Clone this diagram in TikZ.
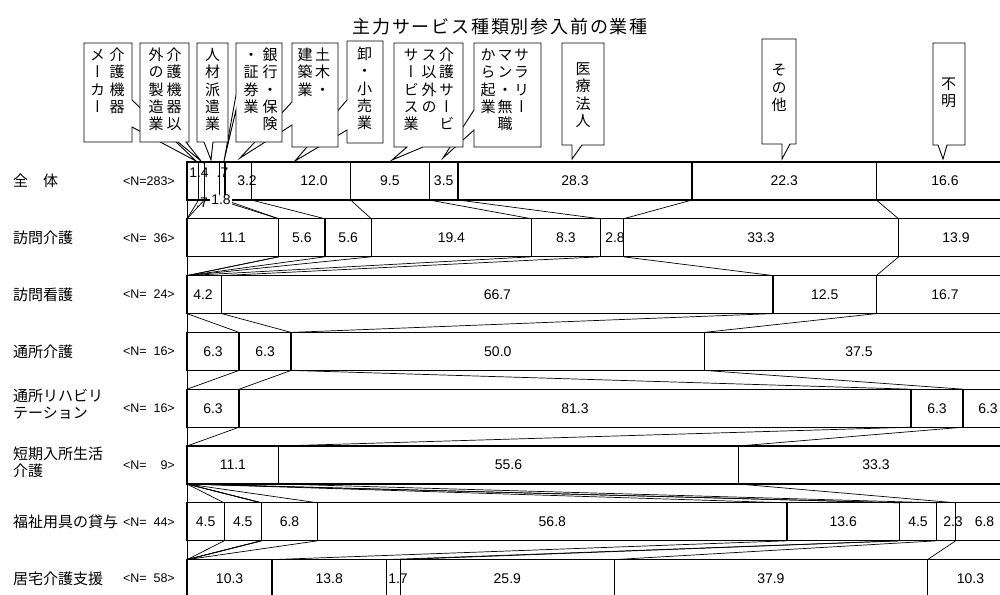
\documentclass[tikz,border=0pt]{standalone}
\usepackage{fontspec}
\setmainfont{Liberation Sans}
\newfontfamily\jp{Noto Sans CJK JP}
\newfontfamily\jpv[RawFeature=+vert]{Noto Sans CJK JP}
\newcommand\tk{\kern1.8pt}
\newcommand\vs{\rule{0pt}{13.2pt}}
\newcommand\nlab[1]{<N=\phantom{283}\llap{#1}>}
\def\data{{{0,1.4,2.1,3.9,4.6,7.8,19.8,29.3,32.8,61.1,83.4,100},
{0,0,0,11.1,11.1,16.7,22.3,41.7,50.0,52.8,86.1,100},
{0,0,0,0,0,0,0,0,4.2,70.9,83.4,100},
{0,0,0,0,0,0,0,6.3,12.6,12.6,62.6,100},
{0,0,0,0,0,0,0,0,6.3,87.6,93.9,100},
{0,0,0,0,0,0,0,0,0,11.1,66.7,100},
{0,4.5,9.0,9.0,9.0,15.8,72.6,86.2,86.2,90.7,93.0,100},
{0,0,0,0,0,0,10.3,24.1,25.8,51.7,89.6,100}}}
\tikzset{
 barln/.style={draw=black, line width=1.3pt},
 serln/.style={draw=black, line width=0.7pt},
 callout/.style={draw=black, fill=white, line width=0.9pt, line join=miter},
 vt/.style={inner sep=0pt, align=center, font=\jpv\fontsize{15}{17.3}\selectfont, anchor=north},
 num/.style={inner sep=0pt, font=\fontsize{14}{16}\selectfont},
 nl/.style={inner sep=0pt, font=\fontsize{12.5}{14}\selectfont, anchor=east},
 cat/.style={inner sep=0pt, font=\jp\fontsize{15}{17}\selectfont, anchor=west, align=left},
}
\begin{document}
\begin{tikzpicture}[x=1pt,y=-1pt]
\useasboundingbox (0,0) rectangle (1000,594);
\fill[white] (0,0) rectangle (1000,594);
\clip (0,0) rectangle (1000,594);

% title
\node[font=\jp\fontsize{18}{20}\selectfont, inner sep=0pt] (title) at (500,27)
 {主\tk 力\tk サ\tk ー\tk ビ\tk ス\tk 種\tk 類\tk 別\tk 参\tk 入\tk 前\tk の\tk 業\tk 種};

% callouts (drawn back to front)
\draw[callout] (84,43) -- (132,43) -- (132,100) -- (196,161) -- (132,127) -- (132,142) -- (84,142) -- cycle;
\node[vt] (c1r) at (117,47) {\vs 介\\護\\機\\器};
\node[vt] (c1l) at (97.5,47) {\vs メ\\ー\\カ\\ー};

\draw[callout] (140,43) -- (189,43) -- (189,142) -- (186,142) -- (201,161) -- (178,142) -- (140,142) -- cycle;
\node[vt] (c2r) at (174,47) {\vs 介\\護\\機\\器\\以};
\node[vt] (c2l) at (156,47) {\vs 外\\の\\製\\造\\業};

\draw[callout] (347,41) -- (383,41) -- (383,143) -- (347,143) -- (347,130) -- (295,161) -- (347,100) -- cycle;
\node[vt] (c6) at (364.5,46) {\vs 卸\\・\\小\\売\\業};

\draw[callout] (292,43) -- (338,43) -- (338,147) -- (292,147) -- (292,125) -- (240,158) -- (292,102) -- cycle;
\node[vt] (c5r) at (322.5,47) {\vs 土\\木\\・};
\node[vt] (c5l) at (305,47) {\vs 建\\築\\業};

\draw[callout] (236,43) -- (282,43) -- (282,142) -- (236,142) -- (236,110) -- (224,161) -- (236,95) -- cycle;
\node[vt] (c4r) at (270,47) {\vs 銀\\行\\・\\保\\険};
\node[vt] (c4l) at (251,47) {\vs ・\\証\\券\\業};

\draw[callout] (197,43) -- (228,43) -- (228,142) -- (213,142) -- (211,160) -- (204,142) -- (197,142) -- cycle;
\node[vt] (c3) at (212.5,47) {\vs 人\\材\\派\\遣\\業};

\draw[callout] (474,43) -- (541,43) -- (541,147) -- (474,147) -- (474,130) -- (443,158) -- (474,110) -- cycle;
\node[vt] (c8r) at (521.5,47) {\vs サ\\ラ\\リ\\ー};
\node[vt] (c8m) at (505,47) {\vs マ\\ン\\・\\無\\職};
\node[vt] (c8l) at (488,47) {\vs か\\ら\\起\\業};

\draw[callout] (394,43) -- (463,43) -- (463,147) -- (423,147) -- (392,160) -- (407,147) -- (394,147) -- cycle;
\node[vt] (c7r) at (446.5,47) {\vs 介\\護\\サ\\ー\\ビ};
\node[vt] (c7m) at (429,47) {\vs ス\\以\\外\\の};
\node[vt] (c7l) at (411,47) {\vs サ\\ー\\ビ\\ス\\業};

\draw[callout] (562,43) -- (604,43) -- (604,145) -- (582,145) -- (572,159) -- (572,145) -- (562,145) -- cycle;
\node[vt] (c9) at (583,61) {\vs 医\\療\\法\\人};

\draw[callout] (762,39) -- (796,39) -- (796,144) -- (790,144) -- (782,159) -- (782,144) -- (762,144) -- cycle;
\node[vt] (c10) at (779,62.5) {\vs そ\\の\\他};

\draw[callout] (933,43) -- (965,43) -- (965,145) -- (947,145) -- (943,159) -- (938,145) -- (933,145) -- cycle;
\node[vt] (c11) at (948.5,76) {\vs 不\\明};

% bar coordinates
\foreach \i in {0,...,7}{
 \foreach \k in {0,...,11}{
  \pgfmathsetmacro\xx{187+8.265*\data[\i][\k]}
  \pgfmathsetmacro\yt{162+56.8*\i}
  \pgfmathsetmacro\yb{\yt+38}
  \coordinate (t-\i-\k) at (\xx,\yt);
  \coordinate (b-\i-\k) at (\xx,\yb);
 }
}

% series lines
\foreach \i [evaluate=\i as \j using int(\i+1)] in {0,...,6}{
 \foreach \k in {1,...,10}{
  \draw[serln] (b-\i-\k) -- (t-\j-\k);
 }
}
\coordinate (axisend) at (187,594);
\draw[serln] (t-0-0) -- (axisend);

% bars
\foreach \i in {0,...,7}{
 \foreach \k [evaluate=\k as \pk using int(\k-1)] in {1,...,11}{
  \draw[barln] (t-\i-\pk) rectangle (b-\i-\k);
 }
}

% row labels
\node[cat] (r0) at (13,181) {全　体};
\node[cat] (r1) at (13,237.8) {訪問介護};
\node[cat] (r2) at (13,294.6) {訪問看護};
\node[cat] (r3) at (13,351.4) {通所介護};
\node[cat] (r4) at (13,404.5) {通所リハビリ\\テーション};
\node[cat] (r5) at (13,462) {短期入所生活\\介護};
\node[cat] (r6) at (13,521.8) {福祉用具の貸与};
\node[cat] (r7) at (13,578.6) {居宅介護支援};

\node[nl] (n0) at (175,181) {\nlab{283}};
\node[nl] (n1) at (175,237.8) {\nlab{36}};
\node[nl] (n2) at (175,294.6) {\nlab{24}};
\node[nl] (n3) at (175,351.4) {\nlab{16}};
\node[nl] (n4) at (175,408.2) {\nlab{16}};
\node[nl] (n5) at (175,465) {\nlab{9}};
\node[nl] (n6) at (175,521.8) {\nlab{44}};
\node[nl] (n7) at (175,578.6) {\nlab{58}};

% values: row 0
\node[num] (v0a) at (199,172.5) {1.4};
\node[num] (v0b) at (202,202.5) {.7};
\node[num, fill=white, inner xsep=1.5pt] (v0c) at (221,200) {1.8};
\node[num] (v0d) at (222.5,173) {.7};
\node[num] (v0e) at (247,181) {3.2};
\node[num] (v0f) at (314,181) {12.0};
\node[num] (v0g) at (389.9,181) {9.5};
\node[num] (v0h) at (443.7,181) {3.5};
\node[num] (v0i) at (575,181) {28.3};
\node[num] (v0j) at (784.2,181) {22.3};
\node[num] (v0k) at (944.9,181) {16.6};
% row 1
\node[num] (v1a) at (232.9,237.8) {11.1};
\node[num] (v1b) at (301.8,237.8) {5.6};
\node[num] (v1c) at (348.2,237.8) {5.6};
\node[num] (v1d) at (451.4,237.8) {19.4};
\node[num] (v1e) at (565.9,237.8) {8.3};
\node[num] (v1f) at (615,237.8) {2.8};
\node[num] (v1g) at (761,237.8) {33.3};
\node[num] (v1h) at (956,237.8) {13.9};
% row 2
\node[num] (v2a) at (203,294.6) {4.2};
\node[num] (v2b) at (497.4,294.6) {66.7};
\node[num] (v2c) at (824.7,294.6) {12.5};
\node[num] (v2d) at (944.9,294.6) {16.7};
% row 3
\node[num] (v3a) at (213,351.4) {6.3};
\node[num] (v3b) at (265.1,351.4) {6.3};
\node[num] (v3c) at (497.8,351.4) {50.0};
\node[num] (v3d) at (859,351.4) {37.5};
% row 4
\node[num] (v4a) at (213,408.2) {6.3};
\node[num] (v4b) at (575,408.2) {81.3};
\node[num] (v4c) at (937,408.2) {6.3};
\node[num] (v4d) at (988,408.2) {6.3};
% row 5
\node[num] (v5a) at (232.9,465) {11.1};
\node[num] (v5b) at (508.5,465) {55.6};
\node[num] (v5c) at (875.9,465) {33.3};
% row 6
\node[num] (v6a) at (205.6,521.8) {4.5};
\node[num] (v6b) at (242.8,521.8) {4.5};
\node[num] (v6c) at (289.5,521.8) {6.8};
\node[num] (v6d) at (552.3,521.8) {56.8};
\node[num] (v6e) at (843.2,521.8) {13.6};
\node[num] (v6f) at (918,521.8) {4.5};
\node[num] (v6g) at (953,521.8) {2.3};
\node[num] (v6h) at (984.5,521.8) {6.8};
% row 7
\node[num] (v7a) at (229.6,578.6) {10.3};
\node[num] (v7b) at (329.2,578.6) {13.8};
\node[num] (v7c) at (398,578.6) {1.7};
\node[num] (v7d) at (507.3,578.6) {25.9};
\node[num] (v7e) at (770.9,578.6) {37.9};
\node[num] (v7f) at (970.5,578.6) {10.3};
\end{tikzpicture}
\end{document}
